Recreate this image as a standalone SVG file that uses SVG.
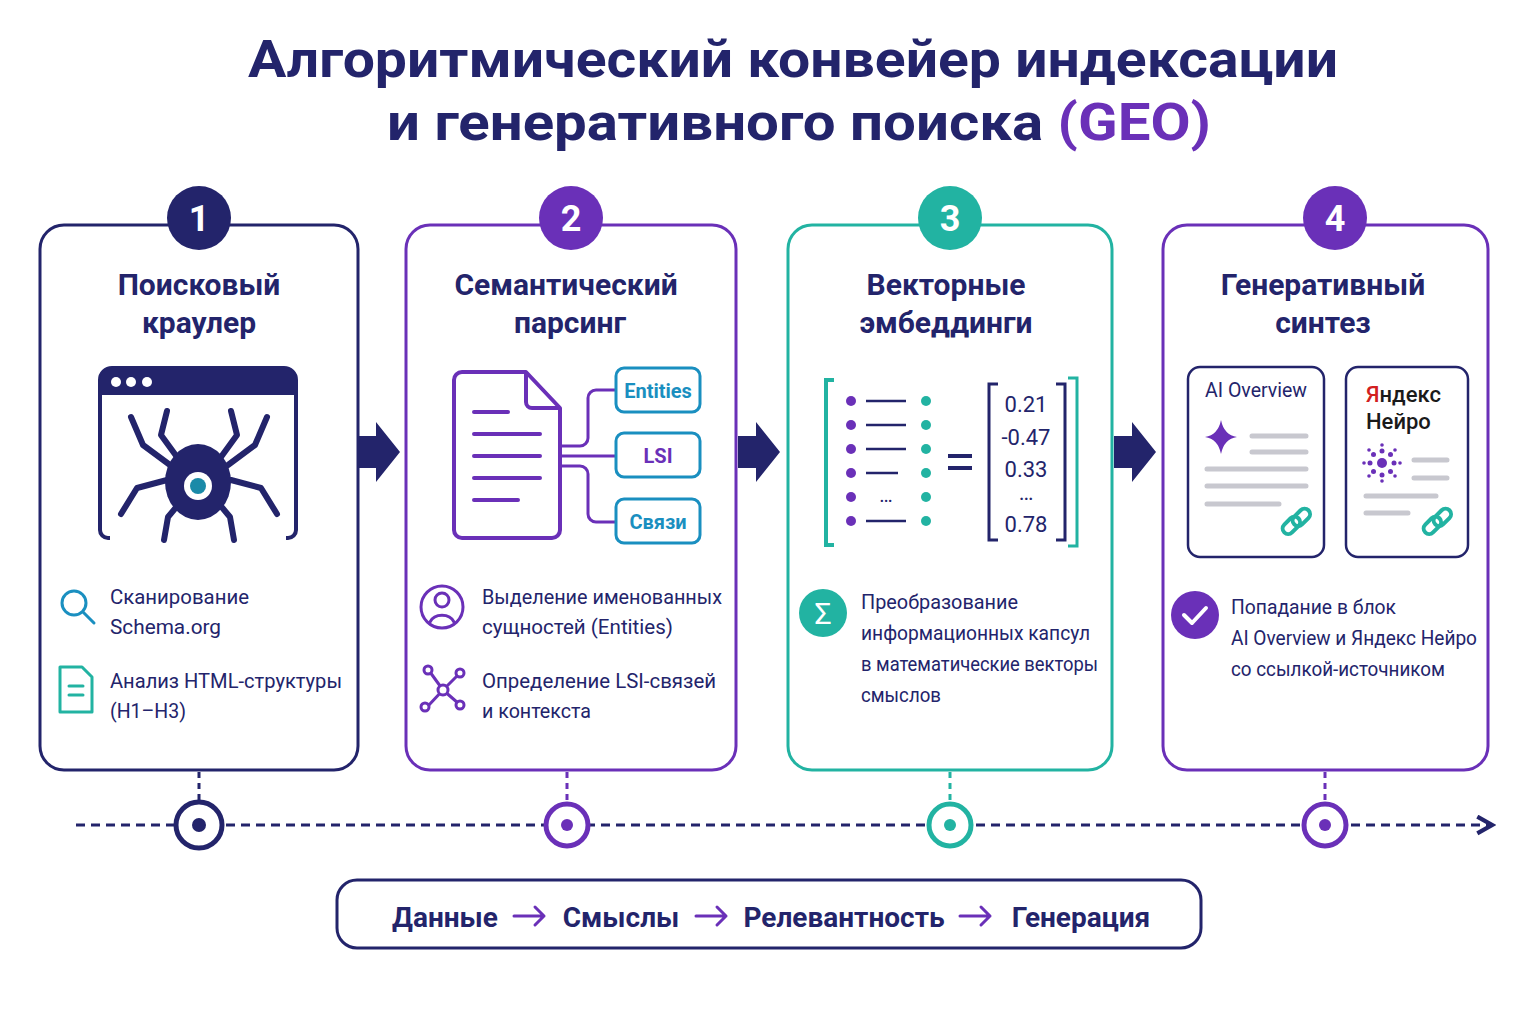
<svg xmlns="http://www.w3.org/2000/svg" width="1536" height="1024" viewBox="0 0 1536 1024">
<defs>
<style>
text{font-family:Roboto,"Noto Sans",sans-serif;fill:#23246b}
.t{font-size:52px;font-weight:bold;text-anchor:middle}
.h{font-size:30px;font-weight:bold;text-anchor:middle}
.b{font-size:21px}
.n{font-size:36px;font-weight:bold;fill:#fff;text-anchor:middle}
.card{fill:#fff;stroke-width:3}
.nv{stroke:#23246b}.pu{stroke:#6a30b8}.te{stroke:#22b3a2}
.ln{stroke:#c8c8cf;stroke-width:5;stroke-linecap:round}
.ic{fill:none;stroke-width:3;stroke-linecap:round;stroke-linejoin:round}
</style>
<marker id="ah" viewBox="0 0 10 10" refX="8" refY="5" markerWidth="7" markerHeight="7" orient="auto"><path d="M1,1 L8,5 L1,9" fill="none" stroke="#23246b" stroke-width="2"/></marker>
</defs>
<rect width="1536" height="1024" fill="#fff"/>
<text class="t" x="793" y="77" textLength="1090" lengthAdjust="spacingAndGlyphs">Алгоритмический конвейер индексации</text>
<text class="t" x="799" y="140" textLength="824" lengthAdjust="spacingAndGlyphs">и генеративного поиска <tspan fill="#6a30b8">(GEO)</tspan></text>

<g id="connectors">
<path d="M358,436 h18 v-14 l24,30 l-24,30 v-14 h-18z" fill="#23246b"/>
<path d="M738,436 h18 v-14 l24,30 l-24,30 v-14 h-18z" fill="#23246b"/>
<path d="M1114,436 h18 v-14 l24,30 l-24,30 v-14 h-18z" fill="#23246b"/>
<line x1="76" y1="825" x2="1492" y2="825" stroke="#23246b" stroke-width="3" stroke-dasharray="9 6" marker-end="url(#ah)"/>
<g stroke-width="3" stroke-dasharray="6 5">
<line x1="199" y1="772" x2="199" y2="800" stroke="#23246b"/>
<line x1="567" y1="772" x2="567" y2="800" stroke="#6a30b8"/>
<line x1="950" y1="772" x2="950" y2="800" stroke="#22b3a2"/>
<line x1="1325" y1="772" x2="1325" y2="800" stroke="#6a30b8"/>
</g>
<g fill="#fff" stroke-width="5">
<circle cx="199" cy="825" r="23" stroke="#23246b"/><circle cx="199" cy="825" r="7" fill="#23246b" stroke="none"/>
<circle cx="567" cy="825" r="21" stroke="#6a30b8"/><circle cx="567" cy="825" r="6" fill="#6a30b8" stroke="none"/>
<circle cx="950" cy="825" r="21" stroke="#22b3a2"/><circle cx="950" cy="825" r="6" fill="#22b3a2" stroke="none"/>
<circle cx="1325" cy="825" r="21" stroke="#6a30b8"/><circle cx="1325" cy="825" r="6" fill="#6a30b8" stroke="none"/>
</g>
</g>

<g id="node1">
<rect class="card nv" x="40" y="225" width="318" height="545" rx="24"/>
<circle cx="199" cy="218" r="32" fill="#23246b"/><text class="n" x="199" y="231">1</text>
<text class="h" x="199" y="295">Поисковый</text><text class="h" x="199" y="333">краулер</text>
<path d="M110,538 h-2 a8,8 0 0 1 -8,-8 v-150 a12,12 0 0 1 12,-12 h172 a12,12 0 0 1 12,12 v150 a8,8 0 0 1 -8,8 h-2" fill="none" stroke="#23246b" stroke-width="4"/>
<path d="M100,395 v-15 a12,12 0 0 1 12,-12 h172 a12,12 0 0 1 12,12 v15z" fill="#23246b"/>
<circle cx="116" cy="382" r="5" fill="#fff"/><circle cx="131" cy="382" r="5" fill="#fff"/><circle cx="147" cy="382" r="5" fill="#fff"/>
<g fill="none" stroke="#23246b" stroke-width="6" stroke-linecap="round" stroke-linejoin="round">
<path d="M170,465 l-27,-20 l-12,-28"/><path d="M167,480 l-30,8 l-16,26"/><path d="M177,457 l-16,-22 l6,-24"/><path d="M178,505 l-10,12 l-4,23"/>
<path d="M228,465 l27,-20 l12,-28"/><path d="M231,480 l30,8 l16,26"/><path d="M221,457 l16,-22 l-6,-24"/><path d="M220,505 l10,12 l4,23"/>
</g>
<ellipse cx="198" cy="482" rx="33" ry="38" fill="#23246b"/>
<circle cx="198" cy="486" r="14" fill="#fff"/><circle cx="198" cy="486" r="8" fill="#1a8aa8"/>
<circle cx="74" cy="603" r="12" class="ic" stroke="#1a8fc0"/><line x1="83" y1="612" x2="94" y2="623" class="ic" stroke="#1a8fc0"/>
<path d="M60,667 h22 l10,10 v35 h-32z" class="ic" stroke="#22b3a2"/><path d="M69,686 h14 M69,695 h14" class="ic" stroke="#22b3a2"/>
<text class="b" x="110" y="604" textLength="139" lengthAdjust="spacingAndGlyphs">Сканирование</text><text class="b" x="110" y="634" textLength="111" lengthAdjust="spacingAndGlyphs">Schema.org</text>
<text class="b" x="110" y="688" textLength="232" lengthAdjust="spacingAndGlyphs">Анализ HTML-структуры</text><text class="b" x="110" y="718" textLength="76" lengthAdjust="spacingAndGlyphs">(H1–H3)</text>
</g>

<g id="node2">
<rect class="card pu" x="406" y="225" width="330" height="545" rx="24"/>
<circle cx="571" cy="218" r="32" fill="#6a30b8"/><text class="n" x="571" y="231">2</text>
<text class="h" x="566" y="295">Семантический</text><text class="h" x="570" y="333">парсинг</text>
<path d="M462,372 h64 l34,36 v122 a8,8 0 0 1 -8,8 h-90 a8,8 0 0 1 -8,-8 v-150 a8,8 0 0 1 8,-8z M526,372 v30 a6,6 0 0 0 6,6 h28" fill="none" stroke="#6a30b8" stroke-width="4" stroke-linejoin="round"/>
<path d="M474,412 h34 M474,434 h66 M474,456 h66 M474,478 h66 M474,500 h44" stroke="#6a30b8" stroke-width="4" stroke-linecap="round"/>
<path d="M560,446 h20 a8,8 0 0 0 8,-8 v-40 a8,8 0 0 1 8,-8 h20 M560,456 h56 M560,466 h20 a8,8 0 0 1 8,8 v40 a8,8 0 0 0 8,8 h20" fill="none" stroke="#6a30b8" stroke-width="3"/>
<g fill="#fff" stroke="#1a8fc0" stroke-width="3">
<rect x="616" y="368" width="84" height="44" rx="8"/><rect x="616" y="433" width="84" height="44" rx="8"/><rect x="616" y="499" width="84" height="44" rx="8"/>
</g>
<g font-size="20" font-weight="bold" text-anchor="middle"><text x="658" y="398" style="fill:#1a8fc0">Entities</text><text x="658" y="463" style="fill:#6a30b8">LSI</text><text x="658" y="529" style="fill:#1a8fc0">Связи</text></g>
<circle cx="442" cy="607" r="21" class="ic" stroke="#6a30b8"/><circle cx="442" cy="600" r="7" class="ic" stroke="#6a30b8"/><path d="M430,622 a13,11 0 0 1 24,0" class="ic" stroke="#6a30b8"/>
<g class="ic" stroke="#6a30b8"><path d="M443,690 L430,672 M443,690 L458,675 M443,690 L428,706 M443,690 L458,703"/><circle cx="443" cy="690" r="5" fill="#fff"/><circle cx="428" cy="670" r="4" fill="#fff"/><circle cx="460" cy="673" r="4" fill="#fff"/><circle cx="425" cy="707" r="4" fill="#fff"/><circle cx="460" cy="705" r="4" fill="#fff"/></g>
<text class="b" x="482" y="604" textLength="240" lengthAdjust="spacingAndGlyphs">Выделение именованных</text><text class="b" x="482" y="634" textLength="191" lengthAdjust="spacingAndGlyphs">сущностей (Entities)</text>
<text class="b" x="482" y="688" textLength="234" lengthAdjust="spacingAndGlyphs">Определение LSI-связей</text><text class="b" x="482" y="718" textLength="109" lengthAdjust="spacingAndGlyphs">и контекста</text>
</g>

<g id="node3">
<rect class="card te" x="788" y="225" width="324" height="545" rx="24"/>
<circle cx="950" cy="218" r="32" fill="#22b3a2"/><text class="n" x="950" y="231">3</text>
<text class="h" x="946" y="295">Векторные</text><text class="h" x="946" y="333">эмбеддинги</text>
<path d="M834,380 h-8 v165 h8" fill="none" stroke="#22b3a2" stroke-width="4"/>
<g fill="#6a30b8"><circle cx="851" cy="401" r="5"/><circle cx="851" cy="425" r="5"/><circle cx="851" cy="449" r="5"/><circle cx="851" cy="473" r="5"/><circle cx="851" cy="497" r="5"/><circle cx="851" cy="521" r="5"/></g>
<g fill="#22b3a2"><circle cx="926" cy="401" r="5"/><circle cx="926" cy="425" r="5"/><circle cx="926" cy="449" r="5"/><circle cx="926" cy="473" r="5"/><circle cx="926" cy="497" r="5"/><circle cx="926" cy="521" r="5"/></g>
<path d="M866,401 h40 M866,425 h40 M866,449 h40 M866,473 h32 M866,521 h40" stroke="#23246b" stroke-width="2.5"/>
<text x="886" y="502" font-size="20" text-anchor="middle">…</text>
<path d="M948,456 h24 M948,468 h24" stroke="#23246b" stroke-width="4"/>
<path d="M998,384 h-9 v156 h9 M1056,384 h9 v156 h-9" fill="none" stroke="#23246b" stroke-width="3"/>
<path d="M1068,378 h9 v168 h-9" fill="none" stroke="#22b3a2" stroke-width="3"/>
<g font-size="22" text-anchor="middle"><text x="1026" y="412">0.21</text><text x="1026" y="445">-0.47</text><text x="1026" y="477">0.33</text><text x="1026" y="500">…</text><text x="1026" y="532">0.78</text></g>
<circle cx="823" cy="613" r="24" fill="#22b3a2"/><text x="823" y="624" font-size="30" text-anchor="middle" style="fill:#fff">Σ</text>
<text class="b" x="861" y="609" textLength="157" lengthAdjust="spacingAndGlyphs">Преобразование</text><text class="b" x="861" y="640" textLength="229" lengthAdjust="spacingAndGlyphs">информационных капсул</text><text class="b" x="861" y="671" textLength="237" lengthAdjust="spacingAndGlyphs">в математические векторы</text><text class="b" x="861" y="702" textLength="80" lengthAdjust="spacingAndGlyphs">смыслов</text>
</g>

<g id="node4">
<rect class="card pu" x="1163" y="225" width="325" height="545" rx="24"/>
<circle cx="1335" cy="218" r="32" fill="#6a30b8"/><text class="n" x="1335" y="231">4</text>
<text class="h" x="1323" y="295">Генеративный</text><text class="h" x="1323" y="333">синтез</text>
<rect x="1188" y="367" width="136" height="190" rx="12" fill="#fff" stroke="#23246b" stroke-width="2.5"/>
<rect x="1346" y="367" width="122" height="190" rx="12" fill="#fff" stroke="#23246b" stroke-width="2.5"/>
<text x="1256" y="397" font-size="20" text-anchor="middle" textLength="102" lengthAdjust="spacingAndGlyphs">AI Overview</text>
<text x="1366" y="402" font-size="22" font-weight="500" style="fill:#1a1a1a"><tspan style="fill:#d21f1f">Я</tspan>ндекс</text><text x="1366" y="429" font-size="22" font-weight="500" style="fill:#1a1a1a">Нейро</text>
<path d="M1221,420 q3,15 16,17 q-13,2 -16,17 q-3,-15 -16,-17 q13,-2 16,-17z" fill="#6a30b8"/>
<path d="M1252,436 h54 M1252,452 h54 M1207,469 h99 M1207,486 h99 M1207,504 h72" class="ln"/>
<path d="M1414,460 h33 M1414,478 h33 M1366,496 h70 M1366,513 h42" class="ln"/>
<g fill="#6a30b8"><circle cx="1382" cy="463" r="5"/>
<circle cx="1382" cy="451" r="2.5"/><circle cx="1382" cy="475" r="2.5"/><circle cx="1370" cy="463" r="2.5"/><circle cx="1394" cy="463" r="2.5"/><circle cx="1373.5" cy="454.5" r="2.5"/><circle cx="1390.5" cy="454.5" r="2.5"/><circle cx="1373.5" cy="471.5" r="2.5"/><circle cx="1390.5" cy="471.5" r="2.5"/>
<circle cx="1382" cy="445" r="1.8"/><circle cx="1382" cy="481" r="1.8"/><circle cx="1364" cy="463" r="1.8"/><circle cx="1400" cy="463" r="1.8"/><circle cx="1369" cy="450" r="1.8"/><circle cx="1395" cy="450" r="1.8"/><circle cx="1369" cy="476" r="1.8"/><circle cx="1395" cy="476" r="1.8"/></g>
<g fill="none" stroke="#22b3a2" stroke-width="4" stroke-linecap="round">
<rect x="1281" y="520" width="20" height="11" rx="5.5" transform="rotate(-45 1291 525)"/><rect x="1291" y="512" width="20" height="11" rx="5.5" transform="rotate(-45 1301 517)"/>
<rect x="1422" y="520" width="20" height="11" rx="5.5" transform="rotate(-45 1432 525)"/><rect x="1432" y="512" width="20" height="11" rx="5.5" transform="rotate(-45 1442 517)"/>
</g>
<circle cx="1195" cy="615" r="24" fill="#6a30b8"/><path d="M1184,615 l8,8 l14,-15" fill="none" stroke="#fff" stroke-width="4" stroke-linecap="round" stroke-linejoin="round"/>
<text class="b" x="1231" y="614" textLength="165" lengthAdjust="spacingAndGlyphs">Попадание в блок</text><text class="b" x="1231" y="645" textLength="246" lengthAdjust="spacingAndGlyphs">AI Overview и Яндекс Нейро</text><text class="b" x="1231" y="676" textLength="214" lengthAdjust="spacingAndGlyphs">со ссылкой-источником</text>
</g>

<g id="summary">
<rect x="337" y="880" width="864" height="68" rx="20" fill="#fff" stroke="#23246b" stroke-width="3"/>
<g font-size="28" font-weight="bold" text-anchor="middle"><text x="445" y="927">Данные</text><text x="621" y="927">Смыслы</text><text x="844" y="927">Релевантность</text><text x="1081" y="927">Генерация</text></g>
<g fill="none" stroke="#6a30b8" stroke-width="3" stroke-linecap="round" stroke-linejoin="round">
<path d="M514,916 h30 M535,907 l9,9 l-9,9"/><path d="M696,916 h30 M717,907 l9,9 l-9,9"/><path d="M960,916 h30 M981,907 l9,9 l-9,9"/>
</g>
</g>
</svg>
